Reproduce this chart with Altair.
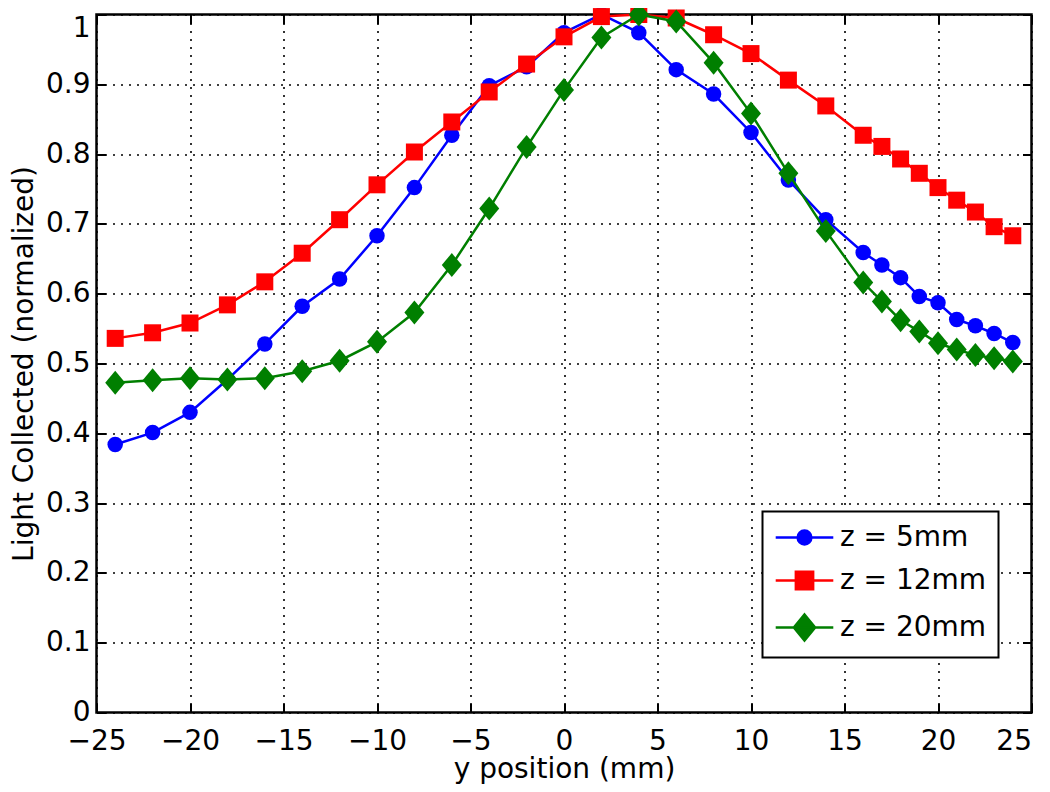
import altair as alt
import pandas as pd

# ---------------- data ----------------
x_vals = [-24, -22, -20, -18, -16, -14, -12, -10, -8, -6, -4, -2, 0, 2, 4, 6, 8,
          10, 12, 14, 16, 17, 18, 19, 20, 21, 22, 23, 24]
z5 = [0.384, 0.401, 0.430, 0.477, 0.528, 0.582, 0.621, 0.683, 0.752, 0.827, 0.898,
      0.925, 0.974, 1.000, 0.974, 0.921, 0.886, 0.831, 0.763, 0.706, 0.659, 0.641,
      0.623, 0.596, 0.587, 0.563, 0.554, 0.543, 0.530]
z12 = [0.536, 0.544, 0.558, 0.584, 0.617, 0.658, 0.706, 0.756, 0.803, 0.846, 0.889,
       0.929, 0.968, 0.997, 1.000, 0.995, 0.971, 0.944, 0.906, 0.869, 0.827, 0.811,
       0.793, 0.7725, 0.752, 0.734, 0.717, 0.696, 0.683]
z20 = [0.4725, 0.476, 0.479, 0.477, 0.479, 0.489, 0.504, 0.531, 0.573, 0.641, 0.722,
       0.810, 0.892, 0.967, 1.000, 0.990, 0.931, 0.858, 0.7725, 0.690, 0.616, 0.589,
       0.562, 0.546, 0.529, 0.520, 0.512, 0.5075, 0.503]

series_names = ["z = 5mm", "z = 12mm", "z = 20mm"]
series_colors = ["#0000FF", "#FF0000", "#007F00"]

x_ticks = [-25, -20, -15, -10, -5, 0, 5, 10, 15, 20, 25]
y_ticks = [0, 0.1, 0.2, 0.3, 0.4, 0.5, 0.6, 0.7, 0.8, 0.9, 1.0]

# ---------------- tables ----------------
frames = []
for name, vals in zip(series_names, [z5, z12, z20]):
    frames.append(pd.DataFrame({"x": x_vals, "y": vals, "series": name}))
df_all = pd.concat(frames, ignore_index=True)

FONT = "DejaVu Sans"
W, H = 935, 698
TICK = 9

xscale = alt.Scale(domain=[-25, 25], nice=False, zero=False)
yscale = alt.Scale(domain=[0, 1], nice=False, zero=False)

common_axis = dict(
    domain=False, tickColor="black", tickWidth=2, tickSize=TICK, offset=-TICK,
    labelFont=FONT, labelFontSize=28, labelColor="black",
    labelOverlap=False, labelFlush=False, labelBound=False,
    titleFont=FONT, titleFontSize=28, titleFontWeight="normal", titleColor="black",
    gridColor="black", gridDash=[2, 6], gridWidth=1.6, gridOpacity=1,
)

x_bottom = alt.Axis(orient="bottom", values=x_ticks, format="d", grid=True,
                    labelPadding=15, title="y position (mm)",
                    labelAlign=alt.condition("datum.value >= 25", alt.value("right"), alt.value("center")),
                    titleBaseline="alphabetic", titleX=W / 2, titleY=74,
                    **common_axis)
y_left = alt.Axis(orient="left", values=y_ticks, format=".1~f", grid=True,
                  labelPadding=6.5, title="Light Collected (normalized)",
                  labelBaseline=alt.condition("datum.value >= 1", alt.value("top"), alt.value("middle")),
                  titleAngle=270, titleBaseline="alphabetic",
                  titleX=-73, titleY=H / 2, **common_axis)
x_top = alt.Axis(orient="top", values=x_ticks, labels=False, grid=False, title=None,
                 **common_axis)
y_right = alt.Axis(orient="right", values=y_ticks, labels=False, grid=False, title=None,
                   **common_axis)

marker_shapes = ["circle", "square", "M0,-1.2L1,0L0,1.2L-1,0Z"]
marker_sizes = [240, 289, 400]

layers = []
for i, name in enumerate(series_names):
    d = df_all[df_all["series"] == name]
    xa = x_bottom if i == 0 else None
    ya = y_left if i == 0 else None
    line = alt.Chart(d).mark_line(color=series_colors[i], strokeWidth=2.5).encode(
        x=alt.X("x:Q", scale=xscale, axis=xa),
        y=alt.Y("y:Q", scale=yscale, axis=ya),
    )
    pts = alt.Chart(d).mark_point(
        shape=marker_shapes[i], size=marker_sizes[i], filled=True,
        color=series_colors[i], opacity=1, strokeWidth=0,
    ).encode(
        x=alt.X("x:Q", scale=xscale, axis=None),
        y=alt.Y("y:Q", scale=yscale, axis=None),
    )
    layers += [line, pts]

# legend layer (no visible marks): line + marker symbols
legend_paths = [
    "M-3.6,0H3.6M0.86,0A0.86,0.86,0,1,1,-0.86,0A0.86,0.86,0,1,1,0.86,0Z",
    "M-3.6,0H3.6M-1.08,-1.08H1.08V1.08H-1.08Z",
    "M-3.6,0H3.6M0,-1.62L1.33,0L0,1.62L-1.33,0Z",
]
leg = alt.Legend(
    title=None, orient="none", legendX=666, legendY=497,
    labelFont=FONT, labelFontSize=28, labelColor="black",
    symbolSize=256, symbolStrokeWidth=2.5, symbolOffset=16, labelOffset=21.5,
    padding=12, rowPadding=15, strokeColor="black", fillColor="white",
)
legend_layer = alt.Chart(df_all).transform_filter("datum.y > 5").mark_point(
    filled=True, size=256, strokeWidth=2.5, opacity=1
).encode(
    x=alt.X("x:Q", scale=xscale, axis=x_top),
    y=alt.Y("y:Q", scale=yscale, axis=y_right),
    fill=alt.Fill("series:N", scale=alt.Scale(domain=series_names, range=series_colors), legend=leg),
    stroke=alt.Stroke("series:N", scale=alt.Scale(domain=series_names, range=series_colors), legend=leg),
    shape=alt.Shape("series:N", scale=alt.Scale(domain=series_names, range=legend_paths), legend=leg),
)
layers.append(legend_layer)

chart = alt.layer(*layers).resolve_axis(x="independent", y="independent").properties(
    width=W, height=H,
    autosize=alt.AutoSizeParams(type="none"),
    padding={"left": 88.5, "top": 6.5, "right": 10, "bottom": 71},
    background="white",
).configure_view(stroke="black", strokeWidth=2.5).configure_legend(strokeWidth=2)

chart.save("out.html", embed_options={"renderer": "svg", "actions": False})
